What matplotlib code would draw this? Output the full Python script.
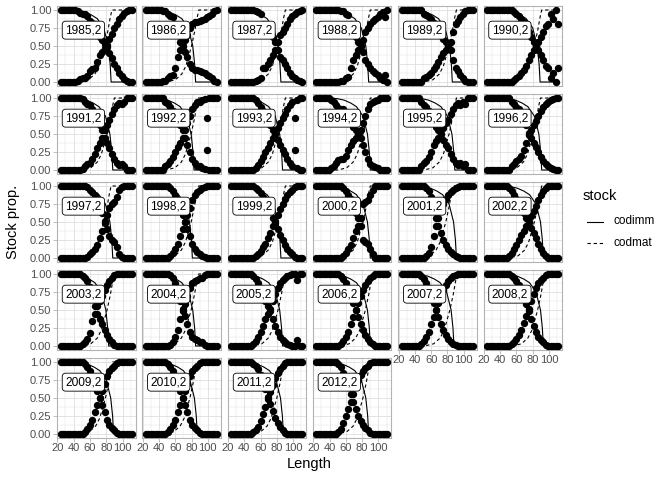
import matplotlib
matplotlib.use("Agg")
import matplotlib.pyplot as plt
from matplotlib.lines import Line2D
import numpy as np

plt.rcParams['font.family'] = ['Liberation Sans', 'DejaVu Sans']

years = list(range(1985, 2013))
lengths = list(range(24, 112, 3))  # 30 length classes

# immature proportion at each length class (mature = 1 - immature)
imm_1985 = [1,1,1,1,1,1,1,.98,.96,.95,.95,.92,.85,.82,.8,.72,.62,.58,.53,.48,.4,.33,.25,.2,.12,.08,.04,.02,0,0]
imm_1986 = [1,1,1,1,1,1,1,.99,.98,.95,.92,.9,.8,.65,.55,.5,.42,.35,.25,.2,.17,.16,.15,.14,.12,.1,.08,.05,.02,0]
imm_1987 = [1,1,1,1,1,1,1,1,1,1,.99,.97,.95,.8,.8,.75,.7,.62,.55,.45,.35,.3,.25,.2,.12,.08,.05,.03,.01,0]
imm_1988 = [1,1,1,1,1,1,1,1,1,1,.99,.98,.95,.93,.8,.7,.62,.55,.5,.42,.3,.25,.2,.15,.12,.1,.06,.03,.1,0]
imm_1989 = [1,1,1,1,1,1,1,1,1,.95,.93,.9,.88,.82,.78,.72,.65,.6,.55,.5,.45,.3,.2,.15,.1,.05,.02,0,0,0]
imm_1990 = [1,1,1,1,1,1,1,1,1,1,1,.97,.95,.92,.88,.83,.78,.7,.62,.56,.5,.45,.38,.3,.22,.2,.05,.12,0,.2]
imm_1991 = [1,1,1,1,1,1,1,1,1,.98,.95,.92,.9,.85,.78,.7,.62,.55,.45,.38,.3,.22,.15,.1,.07,.08,.05,0,0,0]
imm_1992 = [1,1,1,1,1,1,1,1,.95,.92,.88,.82,.75,.68,.62,.55,.45,.35,.25,.15,.1,.06,.05,.03,.02,.28,0,0,0,0]
imm_1993 = [1,1,1,1,1,1,1,1,1,1,.97,.93,.88,.82,.75,.7,.62,.55,.5,.42,.35,.28,.22,.15,.1,.05,.28,.03,0,0]
imm_1994 = [1,1,1,1,1,1,.97,.95,.9,.86,.85,.85,.8,.72,.65,.6,.55,.5,.45,.35,.25,.15,.08,.05,.04,.03,0,0,0,0]
imm_1995 = [1,1,1,1,1,1,1,1,.95,.9,.87,.82,.75,.65,.6,.55,.5,.42,.35,.3,.22,.15,.1,.07,.1,.05,.08,0,0,0]
imm_1996 = [1,1,1,1,1,1,1,1,1,1,.95,.92,.88,.85,.8,.72,.62,.52,.45,.38,.32,.25,.18,.12,.08,.05,.03,.02,0,0]
imm_1997 = [1,1,1,1,1,1,1,1,1,1,1,.98,.95,.92,.88,.82,.72,.62,.52,.4,.3,.25,.22,.15,.05,.02,0,0,0,0]
imm_1998 = [1,1,1,1,1,1,1,1,1,1,.97,.93,.88,.8,.7,.6,.5,.4,.3,.2,.12,.08,.05,.03,.02,0,0,0,0,0]
imm_1999 = [1,1,1,1,1,1,1,1,1,1,.97,.95,.9,.85,.8,.72,.65,.55,.48,.4,.32,.25,.18,.12,.08,.05,.02,0,0,0]
imm_2000 = [1,1,1,1,1,1,1,1,1,1,1,.97,.93,.88,.82,.72,.62,.55,.45,.25,.22,.2,.12,.05,0,0,0,0,0,0]
imm_2001 = [1,1,1,1,1,1,1,1,1,1,.97,.93,.85,.7,.55,.45,.35,.25,.18,.12,.08,.05,.03,.02,0,0,0,0,0,0]
imm_2002 = [1,1,1,1,1,1,1,1,1,.97,.93,.88,.82,.75,.68,.62,.55,.5,.42,.35,.28,.2,.12,.07,.03,0,0,0,0,0]
imm_2003 = [1,1,1,1,1,1,1,1,1,.97,.95,.9,.82,.65,.55,.45,.38,.3,.22,.15,.1,.05,.02,0,0,0,0,0,0,0]
imm_2004 = [1,1,1,1,1,1,1,1,1,1,.98,.95,.88,.78,.62,.52,.42,.3,.2,.12,.1,.08,.06,.05,.02,0,0,0,0,0]
imm_2005 = [1,1,1,1,1,1,1,1,1,.97,.93,.88,.8,.72,.62,.55,.48,.38,.28,.2,.12,.08,.05,.03,.02,0,0,.08,0,0]
imm_2006 = [1,1,1,1,1,1,1,1,1,1,.97,.93,.87,.8,.7,.6,.5,.4,.3,.22,.15,.1,.06,.03,0,0,0,0,0,0]
imm_2007 = [1,1,1,1,1,1,1,1,.97,.93,.88,.8,.7,.6,.5,.4,.3,.22,.15,.1,.06,.03,.02,0,0,0,0,0,0,0]
imm_2008 = [1,1,1,1,1,1,1,1,1,1,.97,.95,.9,.85,.78,.68,.58,.48,.38,.28,.2,.12,.08,.05,.02,0,0,0,0,0]
imm_2009 = [1,1,1,1,1,1,1,1,1,1,.97,.93,.88,.8,.7,.6,.5,.4,.3,.2,.12,.08,.05,.02,0,0,0,0,0,0]
imm_2010 = [1,1,1,1,1,1,1,1,1,.97,.93,.88,.8,.7,.6,.5,.4,.3,.2,.12,.08,.05,.02,0,0,0,0,0,0,0]
imm_2011 = [1,1,1,1,1,1,1,1,1,.97,.95,.9,.82,.72,.62,.52,.42,.32,.22,.15,.1,.05,.02,0,0,0,0,0,0,0]
imm_2012 = [1,1,1,1,1,1,1,1,1,.97,.93,.85,.75,.65,.55,.45,.35,.25,.18,.12,.08,.05,.02,0,0,0,0,0,0,0]

imm_by_year = [imm_1985, imm_1986, imm_1987, imm_1988, imm_1989, imm_1990, imm_1991,
               imm_1992, imm_1993, imm_1994, imm_1995, imm_1996, imm_1997, imm_1998,
               imm_1999, imm_2000, imm_2001, imm_2002, imm_2003, imm_2004, imm_2005,
               imm_2006, imm_2007, imm_2008, imm_2009, imm_2010, imm_2011, imm_2012]

# fitted curves: proportion levels and length offsets (from the curve end)
solid_levels = [1, .99, .97, .93, .88, .75, .5, .25, 0]
solid_offsets = [-48, -40, -32, -24, -17, -9, -3.5, -1.2, 0]
dash_levels = [0, .03, .11, .22, .34, .5, .71, .9, 1]
dash_offsets = [-40, -29, -21, -16, -13, -9, -5, -2, 0]

solid_end = [86, 85, 85, 88, 86, 89, 88, 83, 87, 90, 89, 91, 88, 81,
             85, 90, 91, 93, 83, 85, 87, 90, 88, 93, 89, 87, 88, 88]
dash_end = [87, 89, 90.5, 90, 91, 91, 90, 88.5, 90.5, 90, 91, 89.5, 86, 88.5,
            90.5, 90, 87, 91, 90, 88.5, 90.5, 93, 92, 95, 88, 87, 89, 90]

W, H = 672, 480
fig = plt.figure(figsize=(W / 100, H / 100), dpi=100)

col_left = [57 + 85.3 * c for c in range(6)]
row_top = [6.4 + 88 * r for r in range(5)]
pw, ph = 78.5, 79.2

grid_col = '#dedede'
border_col = '#b3b3b3'
text_col = '#4d4d4d'

for i, yr in enumerate(years):
    r, c = divmod(i, 6)
    ax = fig.add_axes([col_left[c] / W, 1 - (row_top[r] + ph) / H, pw / W, ph / H])
    L = np.array(lengths)
    imm = np.array(imm_by_year[i])
    mat = 1 - imm
    lo, hi = L.min(), L.max()
    sx = [lo] + [solid_end[i] + o for o in solid_offsets] + [hi]
    sy = [1] + solid_levels + [0]
    dx = [lo] + [dash_end[i] + o for o in dash_offsets] + [hi]
    dy = [0] + dash_levels + [1]
    ax.plot(sx, sy, color='black', lw=0.8, zorder=3)
    ax.plot(dx, dy, color='black', lw=0.8, ls=(0, (3, 2.5)), zorder=3)
    ax.scatter(L, imm, s=28, color='black', linewidths=0, zorder=4)
    ax.scatter(L, mat, s=28, color='black', linewidths=0, zorder=4)
    ax.text(52, 0.72, f"{yr},2", ha='center', va='center', fontsize=8.6, color='black', zorder=6,
            bbox=dict(boxstyle='round,pad=0.25,rounding_size=0.3', fc='white', ec='black', lw=0.6))

    ax.set_xlim(19.6, 115.9)
    ax.set_ylim(-0.05, 1.05)
    ax.set_xticks([20, 40, 60, 80, 100])
    ax.set_xticks([30, 50, 70, 90, 110], minor=True)
    ax.set_yticks([0, .25, .5, .75, 1])
    ax.set_yticks([.125, .375, .625, .875], minor=True)
    ax.grid(True, which='major', color=grid_col, lw=0.6, zorder=0)
    ax.grid(True, which='minor', color=grid_col, lw=0.3, zorder=0)
    ax.set_axisbelow(True)
    for s in ax.spines.values():
        s.set_color(border_col)
        s.set_linewidth(0.8)
    ax.tick_params(which='major', length=2.6, width=0.6, color=border_col, labelcolor=text_col,
                   labelsize=8, pad=1.5)
    ax.tick_params(which='minor', length=0)
    bottom = (r == 4) or (r == 3 and c >= 4)
    if bottom:
        ax.set_xticklabels(['20', '40', '60', '80', '100'])
    else:
        ax.set_xticklabels([])
        ax.tick_params(axis='x', which='major', length=0)
    if c == 0:
        ax.set_yticklabels(['0.00', '0.25', '0.50', '0.75', '1.00'])
    else:
        ax.set_yticklabels([])
        ax.tick_params(axis='y', which='major', length=0)

fig.text(309.5 / W, 1 - 464 / H, 'Length', ha='center', va='center', fontsize=10.5, color='black')
fig.text(13 / W, 1 - 222 / H, 'Stock prop.', ha='center', va='center', rotation=90, fontsize=10.5, color='black')

# legend
fig.text(583 / W, 1 - 196 / H, 'stock', ha='left', va='center', fontsize=10.5, color='black')
for yy, lab, ls in [(221.5, 'codimm', '-'), (243, 'codmat', (0, (3, 2.5)))]:
    fig.add_artist(Line2D([587 / W, 603 / W], [1 - yy / H, 1 - yy / H], transform=fig.transFigure,
                          color='black', lw=0.8, ls=ls))
    fig.text(614 / W, 1 - yy / H, lab, ha='left', va='center', fontsize=8.5, color='black')

fig.savefig('out.png', dpi=100, facecolor='white')
